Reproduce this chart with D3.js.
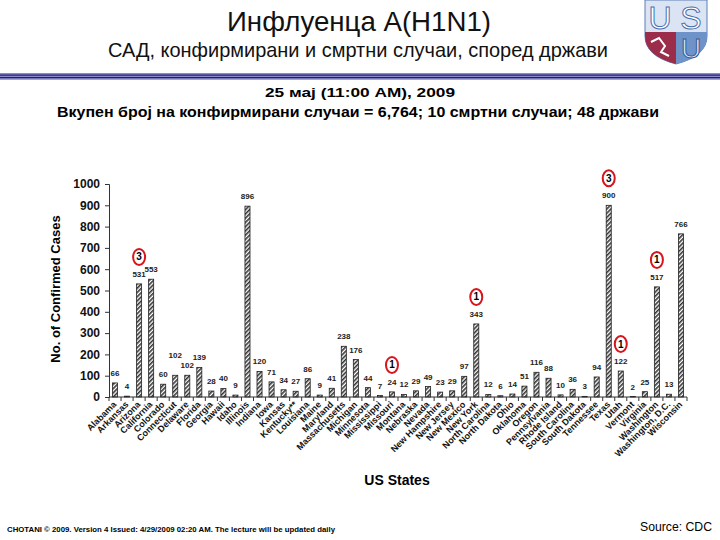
<!DOCTYPE html>
<html>
<head>
<meta charset="utf-8">
<script src="https://cdn.jsdelivr.net/npm/d3@7"></script>
<style>
  body { margin: 0; background: #fff; }
  svg { display: block; }
  text { font-family: "Liberation Sans", Arial, sans-serif; }
  .narrow { font-family: "Liberation Sans Narrow", "Arial Narrow", "Liberation Sans", sans-serif; }
</style>
</head>
<body>
<svg id="chart" width="720" height="540"></svg>
<script>
// states and confirmed cases, 25 May 2009
var states = ["Alabama", "Arkansas", "Arizona", "California", "Colorado", "Connecticut",
  "Delaware", "Florida", "Georgia", "Hawaii", "Idaho", "Illinois", "Indiana", "Iowa",
  "Kansas", "Kentucky**", "Louisiana", "Maine", "Maryland", "Massachusetts", "Michigan",
  "Minnesota", "Mississippi", "Missouri", "Montana", "Nebraska", "Nevada", "New Hampshire",
  "New Jersey", "New Mexico", "New York", "North Carolina", "North Dakota", "Ohio",
  "Oklahoma", "Oregon", "Pennsylvania", "Rhode Island", "South Carolina", "South Dakota",
  "Tennessee", "Texas", "Utah", "Vermont", "Virginia", "Washington", "Washington, D.C.",
  "Wisconsin"];
var cases = [66, 4, 531, 553, 60, 102, 102, 139, 28, 40, 9, 896, 120, 71, 34, 27, 86, 9,
  41, 238, 176, 44, 7, 24, 12, 29, 49, 23, 29, 97, 343, 12, 6, 14, 51, 116, 88, 10, 36, 3,
  94, 900, 122, 2, 25, 517, 13, 766];
// deaths per state (only the ones with circles)
var deathStates = ["Arizona", "Missouri", "New York", "Texas", "Utah", "Washington"];
var deaths = [3, 1, 1, 3, 1, 1];
var yTicks = [0, 100, 200, 300, 400, 500, 600, 700, 800, 900, 1000];

var svg = d3.select('#chart');

// hatch pattern for bars
var defs = svg.append('defs');
var pat = defs.append('pattern')
  .attr('id', 'hatch')
  .attr('patternUnits', 'userSpaceOnUse')
  .attr('width', 3).attr('height', 3)
  .attr('patternTransform', 'rotate(45)');
pat.append('rect').attr('width', 3).attr('height', 3).attr('fill', '#fff');
pat.append('rect').attr('width', 1.6).attr('height', 3).attr('fill', '#333');

// header
svg.append('text').attr('class', 'narrow')
  .attr('x', 359).attr('y', 31)
  .attr('text-anchor', 'middle')
  .attr('font-size', 28)
  .attr('textLength', 264).attr('lengthAdjust', 'spacingAndGlyphs')
  .attr('fill', '#111')
  .text('Инфлуенца A(H1N1)');
svg.append('text').attr('class', 'narrow')
  .attr('x', 358).attr('y', 57)
  .attr('text-anchor', 'middle')
  .attr('font-size', 21)
  .attr('textLength', 500).attr('lengthAdjust', 'spacingAndGlyphs')
  .attr('fill', '#111')
  .text('САД, конфирмирани и смртни случаи, според држави');

// blue rule
svg.append('rect').attr('x', 0).attr('y', 73).attr('width', 720).attr('height', 7).attr('fill', '#8c8cc8');
svg.append('rect').attr('x', 0).attr('y', 74.5).attr('width', 720).attr('height', 1.2).attr('fill', '#1d1d7a');
svg.append('rect').attr('x', 0).attr('y', 77).attr('width', 720).attr('height', 1.2).attr('fill', '#1d1d7a');
svg.append('rect').attr('x', 0).attr('y', 79.2).attr('width', 720).attr('height', 0.8).attr('fill', '#b0a8c8');

// USU logo (rough)
var logo = svg.append('g').attr('transform', 'translate(645,0)');
logo.append('path')
  .attr('d', 'M0,0 L62,0 L62,36 Q62,56 31,64 Q0,56 0,36 Z')
  .attr('fill', '#dbe4f2').attr('stroke', '#5b7fb8').attr('stroke-width', 1);
logo.append('path')
  .attr('d', 'M0,32 L31,32 L31,64 Q0,56 0,36 Z')
  .attr('fill', '#9b2d4b');
logo.append('path')
  .attr('d', 'M31,32 L62,32 L62,36 Q62,56 31,64 Z')
  .attr('fill', '#6d93c8');
logo.append('text').attr('x', 15).attr('y', 29).attr('text-anchor', 'middle')
  .attr('font-family', 'Liberation Serif, serif').attr('font-size', 32)
  .attr('fill', '#fff').attr('stroke', '#4a70b0').attr('stroke-width', 1).text('U');
logo.append('text').attr('x', 46).attr('y', 29).attr('text-anchor', 'middle')
  .attr('font-family', 'Liberation Serif, serif').attr('font-size', 32)
  .attr('fill', '#fff').attr('stroke', '#4a70b0').attr('stroke-width', 1).text('S');
logo.append('text').attr('x', 46).attr('y', 58).attr('text-anchor', 'middle')
  .attr('font-family', 'Liberation Serif, serif').attr('font-size', 28)
  .attr('fill', '#dbe4f2').attr('stroke', '#2f5a9a').attr('stroke-width', 1).text('U');
logo.append('path')
  .attr('d', 'M6,42 L14,38 L20,46 L16,52 L24,56')
  .attr('fill', 'none').attr('stroke', '#fff').attr('stroke-width', 2);

// date and totals
svg.append('text').attr('class', 'narrow')
  .attr('x', 360).attr('y', 97)
  .attr('text-anchor', 'middle')
  .attr('font-size', 13).attr('font-weight', 'bold')
  .attr('textLength', 190).attr('lengthAdjust', 'spacingAndGlyphs')
  .text('25 мај  (11:00 AM), 2009');
svg.append('text')
  .attr('x', 358).attr('y', 117)
  .attr('text-anchor', 'middle')
  .attr('font-size', 14).attr('font-weight', 'bold')
  .attr('textLength', 602).attr('lengthAdjust', 'spacingAndGlyphs')
  .text('Вкупен број на конфирмирани случаи = 6,764; 10 смртни случаи; 48 држави');

// chart area
var x0 = 109, x1 = 687, yTop = 184, yBottom = 397;
var x = d3.scaleBand().domain(states).range([x0, x1]).paddingInner(0.58).paddingOuter(0.29);
var y = d3.scaleLinear().domain([0, 1000]).range([yBottom, yTop]);

// bars
svg.selectAll('.bar')
  .data(cases)
  .enter()
  .append('rect')
  .attr('class', 'bar')
  .attr('x', function (d, i) { return x(states[i]); })
  .attr('y', function (d) { return y(d); })
  .attr('width', x.bandwidth())
  .attr('height', function (d) { return yBottom - y(d); })
  .attr('fill', 'url(#hatch)')
  .attr('stroke', '#222')
  .attr('stroke-width', 0.8);

// value labels (lift a label if the next one sits at the same height)
var lift = function (d, i) {
  var n = cases[i + 1];
  if (n === undefined) return 0;
  if (String(d).length >= 3 && String(n).length >= 3 && Math.abs(y(d) - y(n)) < 3) return 10;
  return 0;
};
svg.selectAll('.val')
  .data(cases)
  .enter()
  .append('text')
  .attr('class', 'val')
  .attr('x', function (d, i) { return x(states[i]) + x.bandwidth() / 2; })
  .attr('y', function (d, i) { return y(d) - 7 - lift(d, i); })
  .attr('text-anchor', 'middle')
  .attr('font-size', 8).attr('font-weight', 'bold')
  .attr('fill', '#222')
  .text(function (d) { return d; });

// death circles
var dg = svg.selectAll('.death')
  .data(deaths)
  .enter()
  .append('g')
  .attr('class', 'death')
  .attr('transform', function (d, i) {
    var k = states.indexOf(deathStates[i]);
    return 'translate(' + (x(states[k]) + x.bandwidth() / 2) + ',' + (y(cases[k]) - 27) + ')';
  });
dg.append('ellipse').attr('rx', 6).attr('ry', 8)
  .attr('fill', '#fff').attr('stroke', '#d8141c').attr('stroke-width', 2);
dg.append('text').attr('y', 3.5).attr('text-anchor', 'middle')
  .attr('font-size', 10).attr('font-weight', 'bold')
  .text(function (d) { return d; });

// y axis
var yAxis = svg.append('g')
  .attr('transform', 'translate(' + x0 + ',0)')
  .call(d3.axisLeft(y).tickValues(yTicks).tickFormat(d3.format('d')).tickSize(4).tickPadding(5));
yAxis.select('.domain').attr('stroke', '#333');
yAxis.selectAll('line').attr('stroke', '#333');
yAxis.selectAll('text').attr('font-size', 12).attr('font-weight', 'bold')
  .attr('font-family', '"Liberation Sans", Arial, sans-serif').attr('fill', '#111');

// x axis line with ticks between categories
svg.append('line').attr('x1', x0).attr('x2', x1).attr('y1', yBottom).attr('y2', yBottom)
  .attr('stroke', '#333').attr('stroke-width', 1);
var step = x.step();
svg.selectAll('.xtick')
  .data(d3.range(states.length + 1))
  .enter()
  .append('line')
  .attr('class', 'xtick')
  .attr('x1', function (i) { return x0 + i * step; })
  .attr('x2', function (i) { return x0 + i * step; })
  .attr('y1', yBottom).attr('y2', yBottom + 4)
  .attr('stroke', '#333');

// x labels
svg.selectAll('.xlab')
  .data(states)
  .enter()
  .append('text')
  .attr('class', 'xlab')
  .attr('transform', function (d) {
    return 'translate(' + (x(d) + x.bandwidth() / 2 + 2) + ',' + (yBottom + 8) + ') rotate(-45)';
  })
  .attr('text-anchor', 'end')
  .attr('font-size', 9).attr('font-weight', 'bold')
  .attr('fill', '#111')
  .text(function (d) { return d; });

// axis titles
svg.append('text')
  .attr('transform', 'translate(60,289) rotate(-90)')
  .attr('text-anchor', 'middle')
  .attr('font-size', 13).attr('font-weight', 'bold')
  .text('No. of Confirmed Cases');
svg.append('text')
  .attr('x', 397).attr('y', 485)
  .attr('text-anchor', 'middle')
  .attr('font-size', 14).attr('font-weight', 'bold')
  .text('US States');

// footer
svg.append('text').attr('class', 'narrow')
  .attr('x', 7).attr('y', 532)
  .attr('font-size', 7.5).attr('font-weight', 'bold')
  .attr('textLength', 328).attr('lengthAdjust', 'spacingAndGlyphs')
  .text('CHOTANI © 2009. Version 4 Issued: 4/29/2009 02:20 AM. The lecture will be updated daily');
svg.append('text').attr('class', 'narrow')
  .attr('x', 712).attr('y', 531)
  .attr('text-anchor', 'end')
  .attr('font-size', 13)
  .attr('textLength', 72).attr('lengthAdjust', 'spacingAndGlyphs')
  .text('Source: CDC');
</script>
</body>
</html>
